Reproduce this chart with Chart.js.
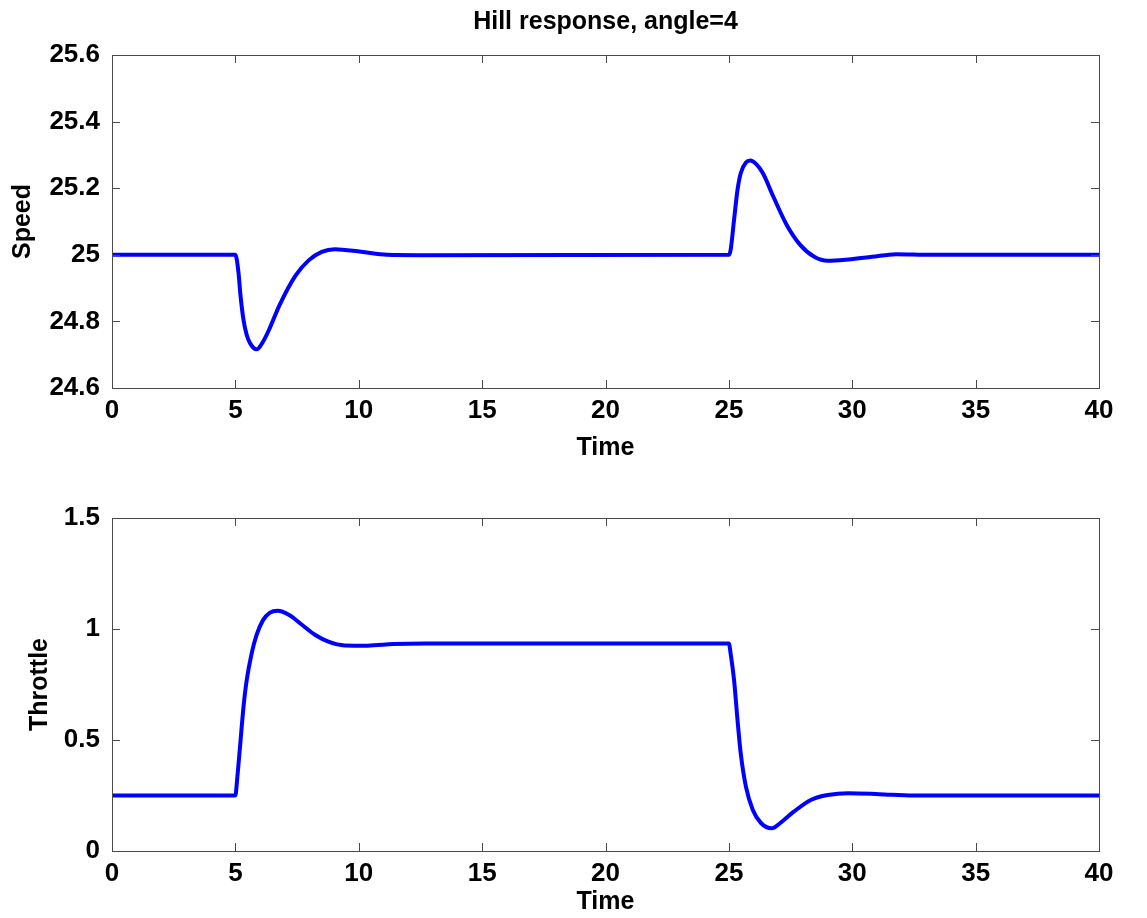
<!DOCTYPE html>
<html lang="en">
<head>
  <meta charset="UTF-8">
  <title>Hill response, angle=4</title>
  <script src="https://cdn.jsdelivr.net/npm/chart.js"></script>
  <style>
    body {
      margin: 0;
      background: #fff;
      width: 1147px;
      height: 918px;
      position: relative;
      overflow: hidden;
    }
    .panel {
      position: absolute;
      left: 0;
      width: 1147px;
    }
    #topPanel { top: 0; height: 470px; }
    #bottomPanel { top: 470px; height: 448px; }
  </style>
</head>
<body>
  <div class="panel" id="topPanel"><canvas id="speedChart" width="1147" height="470"></canvas></div>
  <div class="panel" id="bottomPanel"><canvas id="throttleChart" width="1147" height="448"></canvas></div>

  <script>
    // values
    const speedTime = [0, 5, 5.13, 5.2, 5.33, 5.46, 5.6, 5.86, 6.12, 6.39, 6.79, 7.45, 7.98, 8.5, 9.03, 10.1, 11.15, 12.5,
      25, 25.07, 25.21, 25.35, 25.48, 25.69, 25.87, 26.1, 26.38, 26.8, 27.35, 27.9, 28.46, 29.0, 29.84, 30.8, 31.78, 33.16, 40];
    const speed = [25, 25, 24.944, 24.884, 24.804, 24.759, 24.734, 24.716, 24.739, 24.779, 24.849, 24.939, 24.984, 25.009, 25.017, 25.009, 25.0, 24.999,
      25, 25.014, 25.105, 25.195, 25.245, 25.277, 25.283, 25.273, 25.245, 25.175, 25.089, 25.029, 24.994, 24.982, 24.986, 24.994, 25.002, 25.0, 25];

    const throttleTime = [0, 5, 5.07, 5.2, 5.33, 5.46, 5.66, 5.86, 6.12, 6.39, 6.72, 7.18, 7.71, 8.24, 8.77, 9.43, 10.36, 11.4, 12.7,
      25, 25.07, 25.21, 25.35, 25.48, 25.69, 25.97, 26.31, 26.73, 27.07, 27.63, 28.32, 29.01, 29.84, 31.09, 32.47, 40];
    const throttle = [0.25, 0.25, 0.32, 0.485, 0.65, 0.77, 0.89, 0.973, 1.04, 1.073, 1.082, 1.063, 1.018, 0.973, 0.943, 0.926, 0.925, 0.932, 0.935,
      0.935, 0.89, 0.77, 0.59, 0.44, 0.29, 0.185, 0.125, 0.102, 0.125, 0.177, 0.23, 0.252, 0.26, 0.256, 0.25, 0.25];

    const timeTicks = [0, 5, 10, 15, 20, 25, 30, 35, 40];

    const FONT = "'Liberation Sans', Arial, Helvetica, sans-serif";

    // matlab style box with inward ticks
    const boxPlugin = {
      id: 'box',
      afterDatasetsDraw(chart) {
        const { ctx, chartArea: a, scales } = chart;
        const len = 8;
        ctx.save();
        ctx.strokeStyle = '#4a4a4a';
        ctx.lineWidth = 1;
        ctx.strokeRect(a.left + 0.5, a.top + 0.5, a.right - a.left, a.bottom - a.top);
        ctx.beginPath();
        scales.x.ticks.forEach(t => {
          const px = Math.round(scales.x.getPixelForValue(t.value)) + 0.5;
          ctx.moveTo(px, a.bottom); ctx.lineTo(px, a.bottom - len);
          ctx.moveTo(px, a.top); ctx.lineTo(px, a.top + len);
        });
        scales.y.ticks.forEach(t => {
          const py = Math.round(scales.y.getPixelForValue(t.value)) + 0.5;
          ctx.moveTo(a.left, py); ctx.lineTo(a.left + len, py);
          ctx.moveTo(a.right, py); ctx.lineTo(a.right - len, py);
        });
        ctx.stroke();
        ctx.restore();
      }
    };

    function fmt(v) {
      return String(Math.round(v * 10) / 10);
    }

    function makeChart(id, xs, ys, cfg) {
      const pts = xs.map((x, i) => ({ x: x, y: ys[i] }));
      return new Chart(document.getElementById(id), {
        type: 'line',
        data: {
          datasets: [{
            data: pts,
            borderColor: '#0000ff',
            borderWidth: 4,
            pointRadius: 0,
            fill: false,
            cubicInterpolationMode: 'monotone'
          }]
        },
        options: {
          responsive: false,
          animation: false,
          layout: { padding: cfg.padding },
          plugins: {
            legend: { display: false },
            tooltip: { enabled: false },
            title: cfg.title
          },
          scales: {
            x: {
              type: 'linear',
              min: 0,
              max: 40,
              afterBuildTicks: s => { s.ticks = timeTicks.map(v => ({ value: v })); },
              grid: { display: false, drawTicks: false },
              border: { display: false },
              ticks: {
                autoSkip: false,
                maxRotation: 0,
                padding: 7,
                color: '#000',
                font: { family: FONT, size: 26, weight: 'bold' }
              },
              title: {
                display: true,
                text: 'Time',
                color: '#000',
                font: { family: FONT, size: 25, weight: 'bold' },
                padding: { top: 0, bottom: cfg.xTitlePad }
              },
              afterFit: s => { s.height = cfg.xHeight; }
            },
            y: {
              min: cfg.yMin,
              max: cfg.yMax,
              grid: { display: false, drawTicks: false },
              border: { display: false },
              ticks: {
                stepSize: cfg.yStep,
                padding: 12,
                color: '#000',
                font: { family: FONT, size: 26, weight: 'bold' },
                callback: v => fmt(v)
              },
              title: {
                display: true,
                text: cfg.yLabel,
                color: '#000',
                font: { family: FONT, size: 25, weight: 'bold' },
                padding: { top: cfg.yTitlePad, bottom: 0 }
              },
              afterFit: s => { s.width = 112; }
            }
          }
        },
        plugins: [boxPlugin]
      });
    }

    makeChart('speedChart', speedTime, speed, {
      padding: { top: 0, left: 0, right: 48, bottom: 0 },
      title: {
        display: true,
        text: 'Hill response, angle=4',
        fullSize: false,
        color: '#000',
        font: { family: FONT, size: 25, weight: 'bold' },
        padding: { top: 7, bottom: 18 }
      },
      xHeight: 82,
      xTitlePad: 7,
      yMin: 24.6,
      yMax: 25.6,
      yStep: 0.2,
      yLabel: 'Speed',
      yTitlePad: 8
    });

    makeChart('throttleChart', throttleTime, throttle, {
      padding: { top: 48, left: 0, right: 48, bottom: 0 },
      title: { display: false },
      xHeight: 67,
      xTitlePad: 1,
      yMin: 0,
      yMax: 1.5,
      yStep: 0.5,
      yLabel: 'Throttle',
      yTitlePad: 25
    });
  </script>
</body>
</html>
